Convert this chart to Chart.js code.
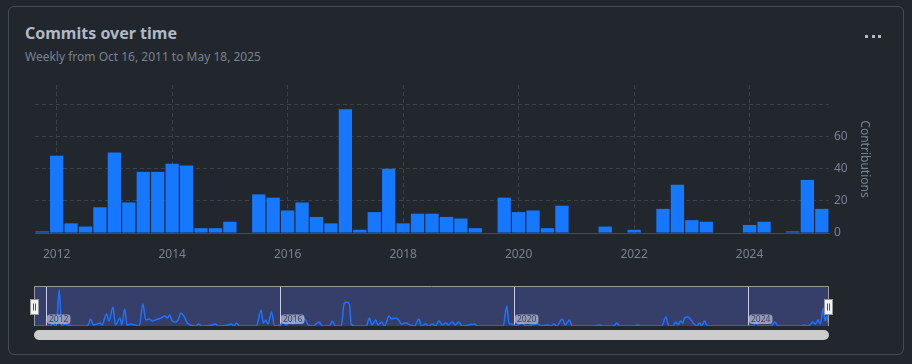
<!DOCTYPE html>
<html><head><meta charset="utf-8">
<script src="https://cdn.jsdelivr.net/npm/chart.js@4/dist/chart.umd.min.js"></script>
<style>
html,body{margin:0;padding:0;background:#22272e;width:912px;height:364px;overflow:hidden;font-family:'Noto Sans',sans-serif;}
#card{position:absolute;left:8px;top:6px;width:896px;height:349px;border:1px solid #444c56;border-radius:6px;box-sizing:border-box;}
#title{position:absolute;left:25px;top:23px;font-size:16px;font-weight:bold;color:#adbac7;line-height:20px;white-space:nowrap;}
#subtitle{position:absolute;left:25px;top:49px;font-size:12px;color:#768390;line-height:16px;white-space:nowrap;}
.dot{position:absolute;top:35px;width:3px;height:3px;background:#adbac7;}
#main{position:absolute;left:0;top:0;}
#nav{position:absolute;left:26px;top:285px;}
#scroll{position:absolute;left:34px;top:330px;width:795px;height:10px;background:#cccccc;border-radius:5px;}
</style></head>
<body>
<div id="card"></div>
<div id="title">Commits over time</div>
<div id="subtitle">Weekly from Oct 16, 2011 to May 18, 2025</div>
<div class="dot" style="left:865px"></div><div class="dot" style="left:872px"></div><div class="dot" style="left:878px"></div>
<canvas id="main" width="912" height="280"></canvas>
<canvas id="nav" width="812" height="43"></canvas>
<div id="scroll"></div>
<script>
// ---- data ----
const startYear = 2011, startQuarter = 4;           // first bar: Q4 2011
const commits = [1,48,6,4,16,50,19,38,38,43,42,3,3,7,0,24,22,14,19,10,6,77,2,13,40,6,12,12,10,9,3,0,22,13,14,3,17,0,0,4,0,2,0,15,30,8,7,0,0,5,7,0,1,33,15];
const xTickYears = [2012,2014,2016,2018,2020,2022,2024];
const yTickValues = [0,20,40,60];
const navTickYears = [2012,2016,2020,2024];
const navRange = [2011.789, 2025.378];
const navWeekly = [[2011.79,0],[2012.06,0],[2012.11,2],[2012.17,0],[2012.22,36],[2012.26,0],[2012.32,2],[2012.37,1],[2012.44,0],[2012.70,0],[2012.76,7],[2012.80,1],[2012.87,2],[2012.92,3],[2012.95,1],[2013.03,12],[2013.07,5],[2013.14,19],[2013.18,1],[2013.26,8],[2013.29,1],[2013.34,17],[2013.38,1],[2013.45,2],[2013.52,1],[2013.59,0],[2013.65,22],[2013.70,6],[2013.76,7],[2013.81,5],[2013.86,6],[2013.91,7],[2013.96,8],[2014.02,10],[2014.07,8],[2014.11,11],[2014.15,5],[2014.21,4],[2014.25,6],[2014.30,13],[2014.36,9],[2014.41,3],[2014.46,1],[2014.56,0],[2014.60,2],[2014.65,0],[2014.84,1],[2014.89,2],[2014.94,0],[2015.11,1],[2015.16,2],[2015.21,0],[2015.25,3],[2015.30,0],[2015.59,0],[2015.67,16],[2015.71,3],[2015.75,6],[2015.79,2],[2015.85,14],[2015.90,0],[2016.00,1],[2016.05,4],[2016.10,1],[2016.18,5],[2016.22,2],[2016.27,6],[2016.33,3],[2016.38,8],[2016.43,6],[2016.48,1],[2016.56,0],[2016.66,4],[2016.72,0],[2016.84,0],[2016.89,5],[2016.94,0],[2017.04,0],[2017.09,22],[2017.13,24],[2017.18,22],[2017.21,2],[2017.27,0],[2017.47,0],[2017.52,8],[2017.57,1],[2017.63,6],[2017.67,1],[2017.73,4],[2017.78,0],[2017.86,10],[2017.90,7],[2017.95,8],[2018.01,7],[2018.07,2],[2018.14,3],[2018.22,1],[2018.29,0],[2018.37,7],[2018.41,0],[2018.48,2],[2018.53,0],[2018.60,2],[2018.65,0],[2018.71,5],[2018.77,1],[2018.83,3],[2018.87,1],[2018.94,4],[2018.99,1],[2019.05,4],[2019.11,0],[2019.22,1],[2019.32,2],[2019.37,0],[2019.81,0],[2019.87,20],[2019.91,2],[2019.97,2],[2020.02,0],[2020.09,2],[2020.14,3],[2020.19,0],[2020.40,2],[2020.45,0],[2020.57,1],[2020.62,0],[2020.68,2],[2020.72,0],[2020.82,7],[2020.87,1],[2020.94,6],[2020.99,0],[2021.39,0],[2021.45,1],[2021.51,0],[2021.70,0],[2021.75,3],[2021.80,0],[2022.07,0],[2022.10,1],[2022.16,0],[2022.52,0],[2022.59,9],[2022.64,0],[2022.71,0],[2022.76,4],[2022.80,1],[2022.84,5],[2022.88,3],[2022.91,8],[2022.97,9],[2023.02,6],[2023.07,2],[2023.12,0],[2023.17,3],[2023.20,0],[2023.25,5],[2023.30,0],[2024.08,0],[2024.13,4],[2024.18,0],[2024.39,0],[2024.45,4],[2024.51,0],[2024.90,0],[2024.95,1],[2025.00,0],[2025.07,2],[2025.10,4],[2025.15,2],[2025.19,6],[2025.23,2],[2025.28,18],[2025.31,5],[2025.34,10],[2025.36,4],[2025.38,12]];

// ---- derived ----
const quarterLabels = commits.map((_, i) => {
  const k = startQuarter - 1 + i;
  return (startYear + Math.floor(k / 4)) + ' Q' + (k % 4 + 1);
});
function yearTickAt(i) {
  const lab = quarterLabels[i];
  if (!lab || !lab.endsWith(' Q1')) return null;
  const y = parseInt(lab, 10);
  return xTickYears.includes(y) ? String(y) : null;
}
const FONT = 'Noto Sans';
const gridCol = '#3a4149';

new Chart(document.getElementById('main'), {
  type: 'bar',
  data: { labels: quarterLabels, datasets: [{ data: commits, backgroundColor: '#1677ff', borderWidth: 0, barPercentage: 1, categoryPercentage: 0.92 }] },
  options: {
    responsive: false, animation: false,
    layout: { padding: { left: 35, top: 85, right: 0, bottom: 0 } },
    plugins: { legend: { display: false }, tooltip: { enabled: false } },
    scales: {
      x: {
        type: 'category', offset: true,
        grid: { offset: false, drawTicks: false, lineWidth: 1, color: ctx => yearTickAt(ctx.index) ? gridCol : 'rgba(0,0,0,0)' },
        border: { display: true, color: '#444c56', width: 1, dash: [4, 3] },
        ticks: { autoSkip: false, maxRotation: 0, padding: 14, color: '#768390', font: { family: FONT, size: 12 },
                 callback: (v, i) => yearTickAt(i) || '' },
        afterFit: s => { s.height = 47; }
      },
      y: {
        position: 'right', min: 0, max: 92,
        grid: { color: gridCol, drawTicks: false, lineWidth: 1 },
        border: { display: false, dash: [4, 3] },
        ticks: { stepSize: 20, includeBounds: false, padding: 5, color: '#768390', font: { family: FONT, size: 12 },
                 callback: v => yTickValues.includes(v) ? String(v) : '' },
        title: { display: true, text: 'Contributions', color: '#768390', font: { family: FONT, size: 12 }, padding: { top: 40, bottom: 0 } },
        afterFit: s => { s.width = 83; }
      }
    }
  }
});

const navDeco = {
  id: 'navDeco',
  beforeDatasetsDraw(chart) {
    const { ctx, chartArea: a } = chart;
    const xs = chart.scales.x;
    ctx.save();
    ctx.fillStyle = '#363f69';
    ctx.fillRect(a.left, a.top, a.right - a.left, a.bottom - a.top);
    ctx.strokeStyle = '#c9cce6'; ctx.lineWidth = 1;
    navTickYears.forEach(yr => {
      const px = Math.round(xs.getPixelForValue(yr)) + 0.5;
      ctx.beginPath(); ctx.moveTo(px, a.top); ctx.lineTo(px, a.bottom); ctx.stroke();
    });
    ctx.restore();
  },
  afterDatasetsDraw(chart) {
    const { ctx, chartArea: a } = chart;
    const xs = chart.scales.x;
    ctx.save();
    ctx.font = '8.5px "Noto Sans"';
    ctx.textBaseline = 'middle'; ctx.textAlign = 'left';
    navTickYears.forEach(yr => {
      const px = Math.round(xs.getPixelForValue(yr)) + 1;
      const w = ctx.measureText(String(yr)).width + 4;
      ctx.fillStyle = 'rgba(215,218,235,0.6)';
      ctx.beginPath(); ctx.roundRect(px, a.bottom - 11.5, w, 9.5, 3); ctx.fill();
      ctx.fillStyle = '#3c4266';
      ctx.fillText(String(yr), px + 2, a.bottom - 6.5);
    });
    // outline
    ctx.strokeStyle = '#9a9a9a'; ctx.lineWidth = 1;
    ctx.beginPath();
    ctx.moveTo(a.left + 0.5, a.bottom); ctx.lineTo(a.left + 0.5, a.top + 0.5);
    ctx.lineTo(a.right - 0.5, a.top + 0.5); ctx.lineTo(a.right - 0.5, a.bottom);
    ctx.stroke();
    // handles
    [a.left, a.right - 1].forEach(hx => {
      const x0 = Math.round(hx) - 3.5, y0 = a.top + 13.5;
      ctx.fillStyle = '#f2f2f2'; ctx.strokeStyle = '#999999';
      ctx.fillRect(x0, y0, 8, 15); ctx.strokeRect(x0, y0, 8, 15);
      ctx.strokeStyle = '#555'; ctx.beginPath();
      ctx.moveTo(x0 + 3, y0 + 4); ctx.lineTo(x0 + 3, y0 + 11);
      ctx.moveTo(x0 + 5, y0 + 4); ctx.lineTo(x0 + 5, y0 + 11);
      ctx.stroke();
    });
    ctx.restore();
  }
};

new Chart(document.getElementById('nav'), {
  type: 'line',
  data: { datasets: [{ data: navWeekly.map(p => ({ x: p[0], y: p[1] })), borderColor: '#1f72ff', borderWidth: 1.5, pointRadius: 0, fill: false, cubicInterpolationMode: 'monotone' }] },
  options: {
    responsive: false, animation: false,
    layout: { padding: { left: 8, right: 9, top: 1, bottom: 2 } },
    plugins: { legend: { display: false }, tooltip: { enabled: false } },
    scales: {
      x: { type: 'linear', display: false, min: navRange[0], max: navRange[1] },
      y: { display: false, min: 0, max: 40 }
    }
  },
  plugins: [navDeco]
});
</script>
</body></html>
